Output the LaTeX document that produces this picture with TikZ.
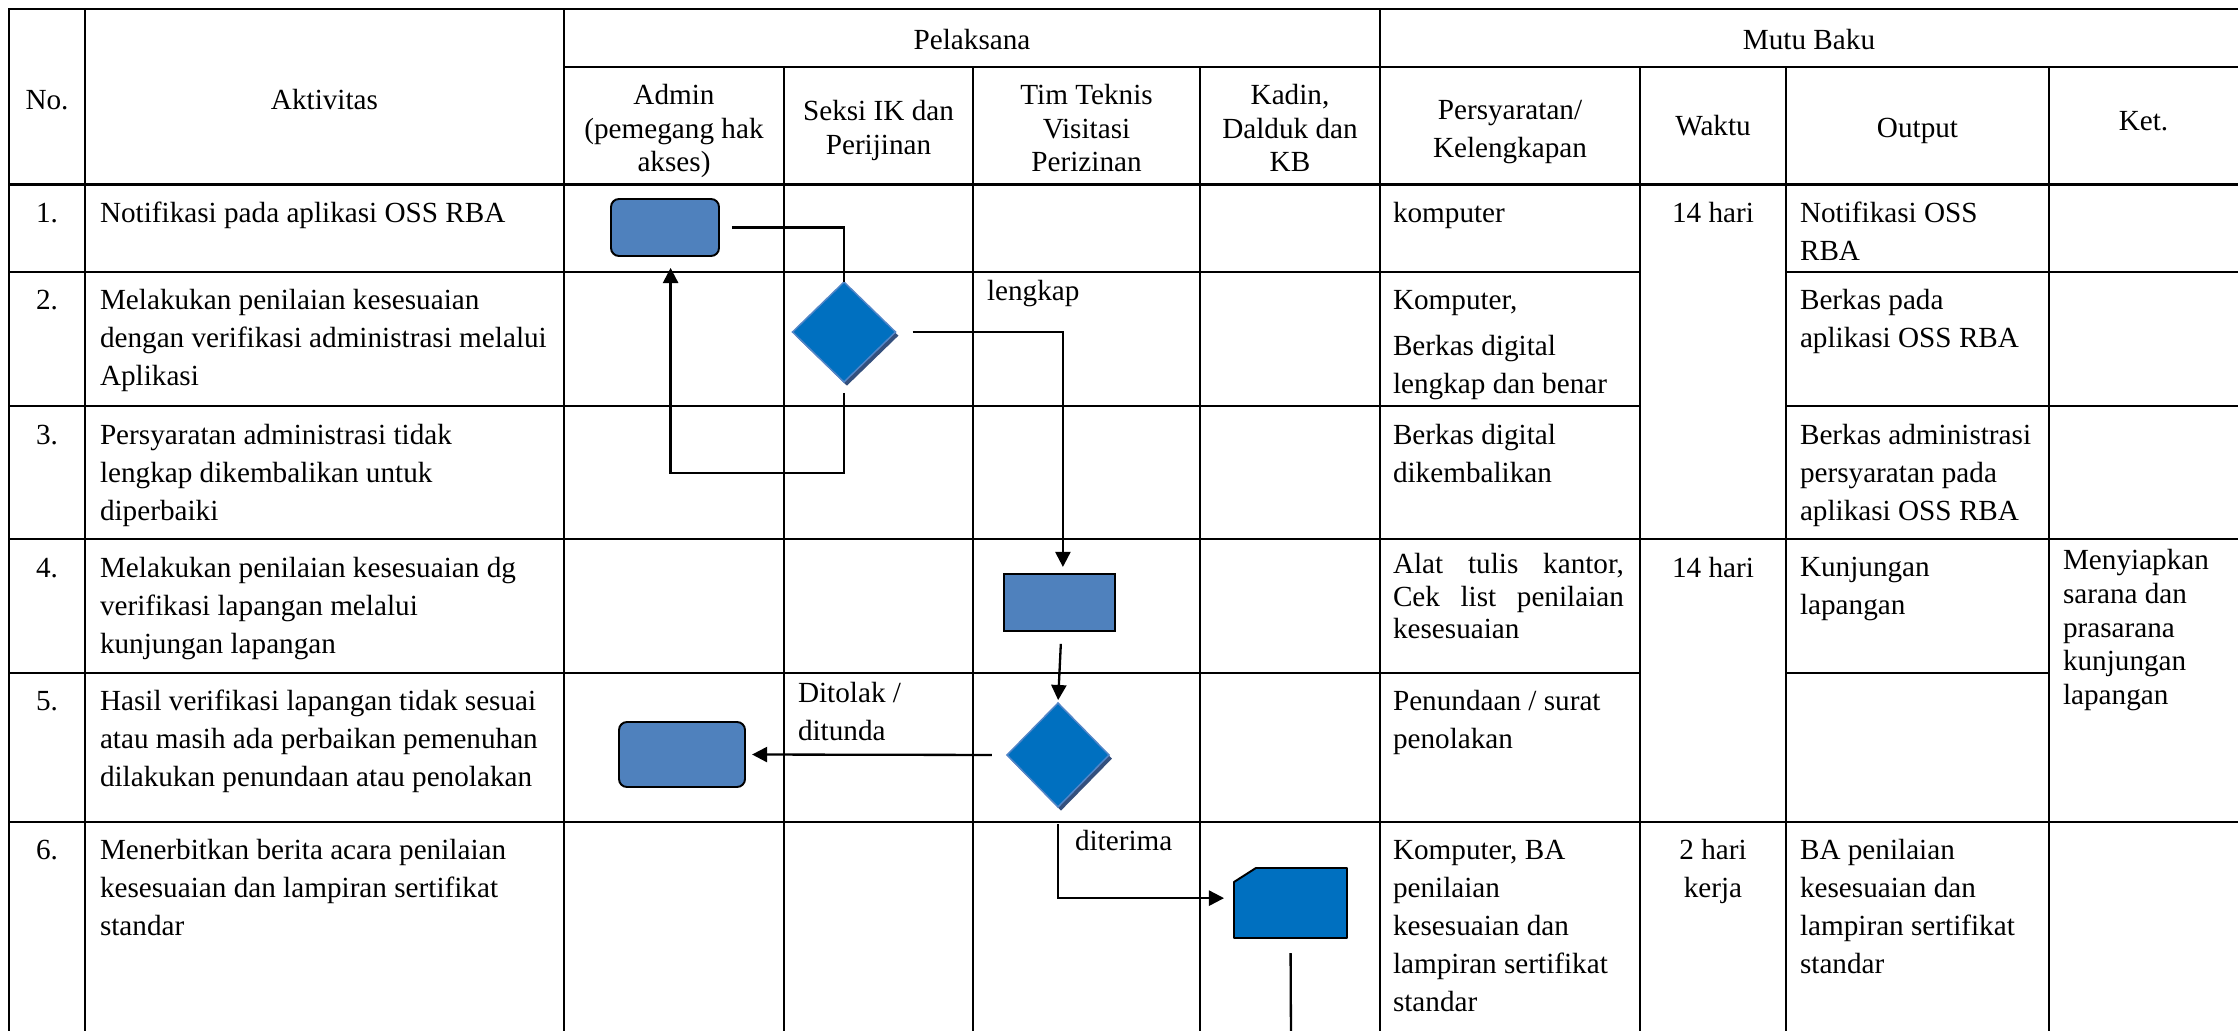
\documentclass[tikz,border=0pt]{standalone}
\usepackage{fontspec}
\setmainfont{Liberation Serif}
\usetikzlibrary{arrows.meta,shapes.geometric,shadows}
\definecolor{boxblue}{RGB}{79,129,189}
\definecolor{diablue}{RGB}{0,112,192}
\definecolor{diaedge}{RGB}{84,134,200}
\definecolor{diashadow}{RGB}{52,80,125}
\begin{document}
\begin{tikzpicture}[x=0.411pt,y=-0.411pt,
  grid/.style={line width=1.1pt, line cap=rect},
  txt/.style={inner sep=0pt, outer sep=0pt, font=\fontsize{12}{15.6}\selectfont, align=left, anchor=base west, yshift=-1.2pt},
  ctr/.style={txt, align=center, anchor=base},
  hdr/.style={ctr, font=\fontsize{12}{13.6}\selectfont},
  tight/.style={txt, font=\fontsize{12}{13.8}\selectfont},
  rbox/.style={draw=black, line width=0.8pt, fill=boxblue, rounded corners=3.3pt, inner sep=0pt, outer sep=0pt},
  sbox/.style={draw=black, line width=0.8pt, fill=boxblue, inner sep=0pt, outer sep=0pt},
  dec/.style={diamond, fill=diablue, draw=diaedge, line width=0.6pt, inner sep=0pt, outer sep=0pt,
    drop shadow={shadow xshift=1.2pt, shadow yshift=-1.5pt, opacity=1, fill=diashadow}},
  conn/.style={line width=0.95pt},
  arr/.style={conn, -{Triangle[length=6.2pt,width=6.2pt]}},
]
\useasboundingbox[fill=white] (0,0) rectangle (2238,1031);

% ---------- table grid ----------
\draw[grid] (9,9) -- (2238,9);
\draw[grid] (564,67) -- (2238,67);
\draw[grid] (9,184.5) -- (2238,184.5);
\draw[grid] (9,272) -- (1640,272);
\draw[grid] (1786,272) -- (2238,272);
\draw[grid] (9,406) -- (1640,406);
\draw[grid] (1786,406) -- (2238,406);
\draw[grid] (9,539) -- (2238,539);
\draw[grid] (9,673) -- (1640,673);
\draw[grid] (1786,673) -- (2049,673);
\draw[grid] (9,822) -- (2238,822);
\draw[grid] (9,9) -- (9,1031);
\draw[grid] (85,9) -- (85,1031);
\draw[grid] (564,9) -- (564,1031);
\draw[grid] (784,67) -- (784,1031);
\draw[grid] (973,67) -- (973,1031);
\draw[grid] (1200,67) -- (1200,1031);
\draw[grid] (1380,9) -- (1380,1031);
\draw[grid] (1640,67) -- (1640,1031);
\draw[grid] (1786,67) -- (1786,1031);
\draw[grid] (2049,67) -- (2049,1031);

% ---------- header (base anchor = baseline of last line) ----------
\node[ctr] (hNo) at (47,107) {No.};
\node[ctr] (hAkt) at (324.5,107) {Aktivitas};
\node[ctr] (hPel) at (972,47) {Pelaksana};
\node[ctr] (hMutu) at (1809,47) {Mutu Baku};
\node[hdr] (hAdm) at (674,168.2) {Admin\\(pemegang hak\\akses)};
\node[hdr, font=\fontsize{12}{14}\selectfont] (hSek) at (878.5,152) {Seksi IK dan\\Perijinan};
\node[hdr] (hTim) at (1086.5,168.2) {Tim Teknis\\Visitasi\\Perizinan};
\node[hdr] (hKad) at (1290,168.2) {Kadin,\\Dalduk dan\\KB};
\node[ctr] (hPer) at (1510,155) {Persyaratan/\\Kelengkapan};
\node[ctr] (hWak) at (1713,133) {Waktu};
\node[ctr] (hOut) at (1917.5,135) {Output};
\node[ctr] (hKet) at (2143.5,128) {Ket.};

% ---------- rows ----------
\node[ctr] (n1) at (47,220) {1.};
\node[txt] (a1) at (100,220) {Notifikasi pada aplikasi OSS RBA};
\node[txt] (p1) at (1393,220) {komputer};
\node[ctr] (w1) at (1713,220) {14 hari};
\node[txt] (o1) at (1800,258) {Notifikasi OSS\\RBA};

\node[ctr] (n2) at (47,307) {2.};
\node[txt] (a2) at (100,382.9) {Melakukan penilaian kesesuaian\\dengan verifikasi administrasi melalui\\Aplikasi};
\node[txt] (p2) at (1393,391) {Komputer,\\[3.3pt]Berkas digital\\lengkap dan benar};
\node[txt] (o2) at (1800,345) {Berkas pada\\aplikasi OSS RBA};

\node[ctr] (n3) at (47,442) {3.};
\node[txt] (a3) at (100,517.9) {Persyaratan administrasi tidak\\lengkap dikembalikan untuk\\diperbaiki};
\node[txt] (p3) at (1393,480) {Berkas digital\\dikembalikan};
\node[txt] (o3) at (1800,517.9) {Berkas administrasi\\persyaratan pada\\aplikasi OSS RBA};

\node[ctr] (n4) at (47,575) {4.};
\node[txt] (a4) at (100,650.9) {Melakukan penilaian kesesuaian dg\\verifikasi lapangan melalui\\kunjungan lapangan};
\node[txt, font=\fontsize{12}{13.2}\selectfont] (p4) at (1393,635.2) {\makebox[94.9pt][s]{Alat tulis kantor,}\\\makebox[94.9pt][s]{Cek list penilaian}\\kesesuaian};
\node[ctr] (w4) at (1713,575) {14 hari};
\node[txt] (o4) at (1800,612) {Kunjungan\\lapangan};
\node[tight] (k4) at (2063,701.3) {Menyiapkan\\sarana dan\\prasarana\\kunjungan\\lapangan};

\node[ctr] (n5) at (47,708) {5.};
\node[txt] (a5) at (100,783.9) {Hasil verifikasi lapangan tidak sesuai\\atau masih ada perbaikan pemenuhan\\dilakukan penundaan atau penolakan};
\node[txt] (p5) at (1393,746) {Penundaan / surat\\penolakan};

\node[ctr] (n6) at (47,857) {6.};
\node[txt] (a6) at (100,932.9) {Menerbitkan berita acara penilaian\\kesesuaian dan lampiran sertifikat\\standar};
\node[txt] (p6) at (1393,1008.8) {Komputer, BA\\penilaian\\kesesuaian dan\\lampiran sertifikat\\standar};
\node[ctr] (w6) at (1713,895) {2 hari\\kerja};
\node[txt] (o6) at (1800,970.9) {BA penilaian\\kesesuaian dan\\lampiran sertifikat\\standar};

% ---------- flowchart shapes ----------
\node[rbox, minimum width=44.39pt, minimum height=23.43pt] (rr1) at (665,227.5) {};
\node[dec, minimum width=42.33pt, minimum height=41.1pt] (d1) at (844,332) {};
\node[sbox, minimum width=45.62pt, minimum height=23.43pt] (r1) at (1059.5,602.5) {};
\node[dec, minimum width=41.92pt, minimum height=42.74pt] (d2) at (1058,755) {};
\node[rbox, minimum width=51.79pt, minimum height=26.72pt] (rr2) at (682,754.5) {};
\node[inner sep=0pt, outer sep=0pt, minimum width=46.44pt, minimum height=28.77pt] (card) at (1290.5,903) {};
\filldraw[fill=diablue, draw=black, line width=0.8pt, line join=round]
  ([yshift=-5.75pt]card.north west) -- ([xshift=9pt]card.north west) -- (card.north east)
  -- (card.south east) -- (card.south west) -- cycle;

% ---------- connectors ----------
\coordinate (lp) at (845,473);
\coordinate (cend) at (1291,1040);
\draw[conn, shorten <=5.3pt] (rr1.east) -| (d1.north);
\draw[arr, shorten <=7pt, shorten >=2.9pt] (d1.east) -| ([xshift=1.4pt]r1.north);
\draw[arr, shorten <=4.5pt, shorten >=4.9pt] (d1.south) -- (d1.south |- lp) -| ([xshift=2.3pt]rr1.south);
\draw[arr, shorten <=5.3pt, shorten >=1.2pt] ([xshift=0.8pt]r1.south) -- (d2.north);
\draw[arr, shorten <=6.2pt, shorten >=2.9pt] (d2.west) -- (rr2.east);
\draw[arr, shorten <=7pt, shorten >=4.1pt] (d2.south) |- ([yshift=2pt]card.west);
\draw[conn, shorten <=6.2pt] (card.south) -- (cend);

% ---------- connector labels ----------
\node[txt] (lLengkap) at (987,298) {lengkap};
\node[txt] (lDitolak) at (798,738) {Ditolak /\\ditunda};
\node[txt] (lDiterima) at (1075,848) {diterima};
\end{tikzpicture}
\end{document}
